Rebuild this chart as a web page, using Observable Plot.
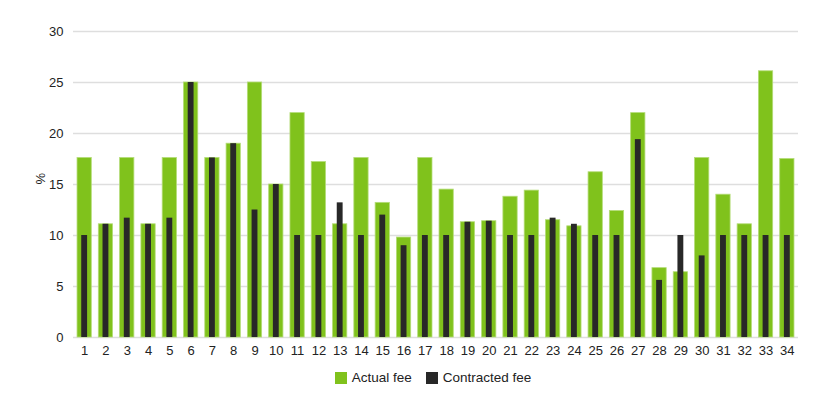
<!DOCTYPE html>
<html>
<head>
<meta charset="utf-8">
<script src="https://cdn.jsdelivr.net/npm/d3@7"></script>
<script src="https://cdn.jsdelivr.net/npm/@observablehq/plot@0.6"></script>
<style>
  html, body { margin: 0; padding: 0; background: #fff; }
  body { width: 824px; height: 395px; overflow: hidden; font-family: "Liberation Sans", Arial, sans-serif; }
  #legend { display: flex; justify-content: center; align-items: center; font-size: 13.5px; color: #222; margin-top: 6px; padding-left: 42px; line-height: 14px; }
  #legend .item { display: flex; align-items: center; margin: 0 7px; }
  #legend .sw { width: 12px; height: 12px; margin-right: 5px; display: inline-block; }
</style>
</head>
<body>
<div id="chart"></div>
<div id="legend"></div>
<script>
const categories = ["1","2","3","4","5","6","7","8","9","10","11","12","13","14","15","16","17","18","19","20","21","22","23","24","25","26","27","28","29","30","31","32","33","34"];
const actualFee = [17.6,11.1,17.6,11.1,17.6,25,17.6,19,25,15,22,17.2,11.1,17.6,13.2,9.8,17.6,14.5,11.3,11.4,13.8,14.4,11.5,10.9,16.2,12.4,22,6.8,6.4,17.6,14,11.1,26.1,17.5];
const contractedFee = [10,11.1,11.7,11.1,11.7,25,17.6,19,12.5,15,10,10,13.2,10,12,9,10,10,11.3,11.4,10,10,11.7,11.1,10,10,19.4,5.6,10,8,10,10,10,10];
const seriesNames = ["Actual fee", "Contracted fee"];
const seriesColors = ["#80c21c", "#282828"];
const yTicks = [0,5,10,15,20,25,30];

const rows = categories.map((c, i) => ({cat: c, actual: actualFee[i], contracted: contractedFee[i]}));

const chart = Plot.plot({
  width: 824,
  height: 365,
  marginLeft: 70,
  marginRight: 23,
  marginTop: 31,
  marginBottom: 28,
  style: {fontFamily: "'Liberation Sans', Arial, sans-serif", fontSize: "13px", color: "#222", background: "#fff"},
  x: {domain: categories, padding: 0.33, round: false, label: null, tickSize: 0, tickPadding: 8},
  y: {domain: [0, 30], ticks: yTicks, label: null, tickSize: 0, tickPadding: 7},
  marks: [
    Plot.ruleY(yTicks, {stroke: "#dedede", strokeWidth: 1.5, insetLeft: 3, insetRight: 3}),
    Plot.barY(rows, {x: "cat", y: "actual", fill: seriesColors[0], stroke: "#b4dc78", strokeWidth: 0.8}),
    Plot.barY(rows, {x: "cat", y: "contracted", fill: seriesColors[1], insetLeft: 4.2, insetRight: 4.2}),
    Plot.text(["%"], {frameAnchor: "left", dx: -30, rotate: -90, fontSize: 13, fill: "#222"})
  ]
});
document.getElementById("chart").appendChild(chart);

const legend = document.getElementById("legend");
seriesNames.forEach((n, i) => {
  const item = document.createElement("span");
  item.className = "item";
  const sw = document.createElement("span");
  sw.className = "sw";
  sw.style.background = seriesColors[i];
  item.appendChild(sw);
  item.appendChild(document.createTextNode(n));
  legend.appendChild(item);
});
</script>
</body>
</html>
